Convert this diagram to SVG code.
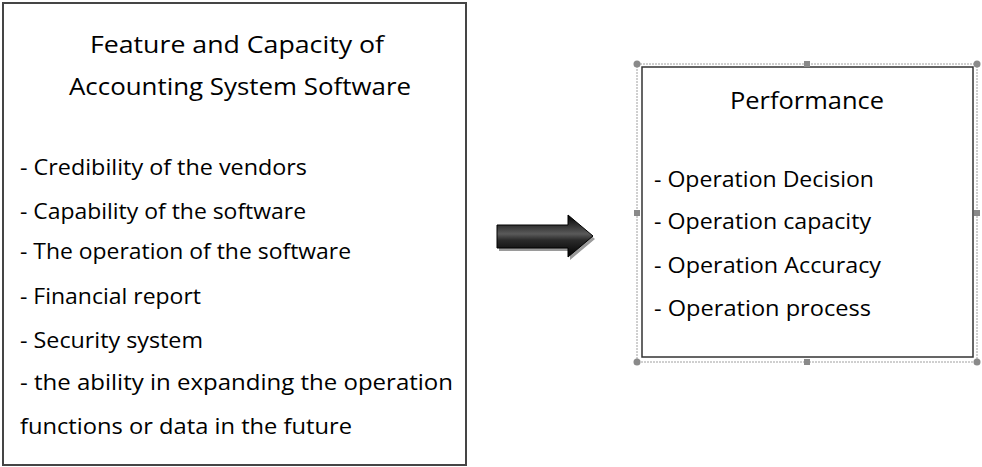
<svg xmlns="http://www.w3.org/2000/svg" width="982" height="467" viewBox="0 0 982 467">
<defs>
<style>
.t{font-family:"Open Sans","Noto Sans","DejaVu Sans",sans-serif;font-size:22px;fill:#000;}
.tt{font-family:"Open Sans","Noto Sans","DejaVu Sans",sans-serif;font-size:24px;fill:#000;}
.box{fill:#fff;stroke:#454545;stroke-width:2;}
.h{fill:#8a8a8a;}
</style>
<linearGradient id="ag" x1="0" y1="0" x2="0" y2="1">
<stop offset="0" stop-color="#000"/>
<stop offset="0.45" stop-color="#5a5a5a"/>
<stop offset="0.6" stop-color="#2a2a2a"/>
<stop offset="1" stop-color="#000"/>
</linearGradient>
</defs>
<rect width="982" height="467" fill="#fff"/>
<g id="features">
<rect class="box" x="3" y="3" width="463" height="462"/>
<text class="tt" x="90" y="53" textLength="294" lengthAdjust="spacingAndGlyphs">Feature and Capacity of</text>
<text class="tt" x="69" y="95" textLength="342" lengthAdjust="spacingAndGlyphs">Accounting System Software</text>
<text class="t" x="20" y="175" textLength="287" lengthAdjust="spacingAndGlyphs">- Credibility of the vendors</text>
<text class="t" x="20" y="219" textLength="286" lengthAdjust="spacingAndGlyphs">- Capability of the software</text>
<text class="t" x="20" y="259" textLength="331" lengthAdjust="spacingAndGlyphs">- The operation of the software</text>
<text class="t" x="20" y="304" textLength="181" lengthAdjust="spacingAndGlyphs">- Financial report</text>
<text class="t" x="20" y="348" textLength="183" lengthAdjust="spacingAndGlyphs">- Security system</text>
<text class="t" x="20" y="390" textLength="433" lengthAdjust="spacingAndGlyphs">- the ability in expanding the operation</text>
<text class="t" x="20" y="434" textLength="332" lengthAdjust="spacingAndGlyphs">functions or data in the future</text>
</g>
<g id="connectors">
<polygon points="499,228 570,228 570,218 595,239 570,260 570,251 499,251" fill="#9a9a9a"/>
<polygon points="497,225 568,225 568,215 593,236 568,257 568,248 497,248" fill="url(#ag)" stroke="#000" stroke-width="1"/>
</g>
<g id="performance">
<rect x="637" y="64" width="340" height="298" fill="none" stroke="#a0a0a0" stroke-width="1" stroke-dasharray="2,1"/>
<rect x="642" y="67" width="331" height="290" fill="#fff" stroke="#333" stroke-width="1.5"/>
<text class="tt" x="730" y="109" textLength="154" lengthAdjust="spacingAndGlyphs">Performance</text>
<text class="t" x="654" y="187" textLength="220" lengthAdjust="spacingAndGlyphs">- Operation Decision</text>
<text class="t" x="654" y="229" textLength="217" lengthAdjust="spacingAndGlyphs">- Operation capacity</text>
<text class="t" x="654" y="273" textLength="227" lengthAdjust="spacingAndGlyphs">- Operation Accuracy</text>
<text class="t" x="654" y="316" textLength="217" lengthAdjust="spacingAndGlyphs">- Operation process</text>
<circle class="h" cx="637" cy="64" r="3.5"/>
<circle class="h" cx="977" cy="64" r="3.5"/>
<circle class="h" cx="637" cy="362" r="3.5"/>
<circle class="h" cx="977" cy="362" r="3.5"/>
<rect class="h" x="804" y="61" width="6" height="6"/>
<rect class="h" x="804" y="359" width="6" height="6"/>
<rect class="h" x="634" y="210" width="6" height="6"/>
<rect class="h" x="974" y="210" width="6" height="6"/>
</g>
</svg>
